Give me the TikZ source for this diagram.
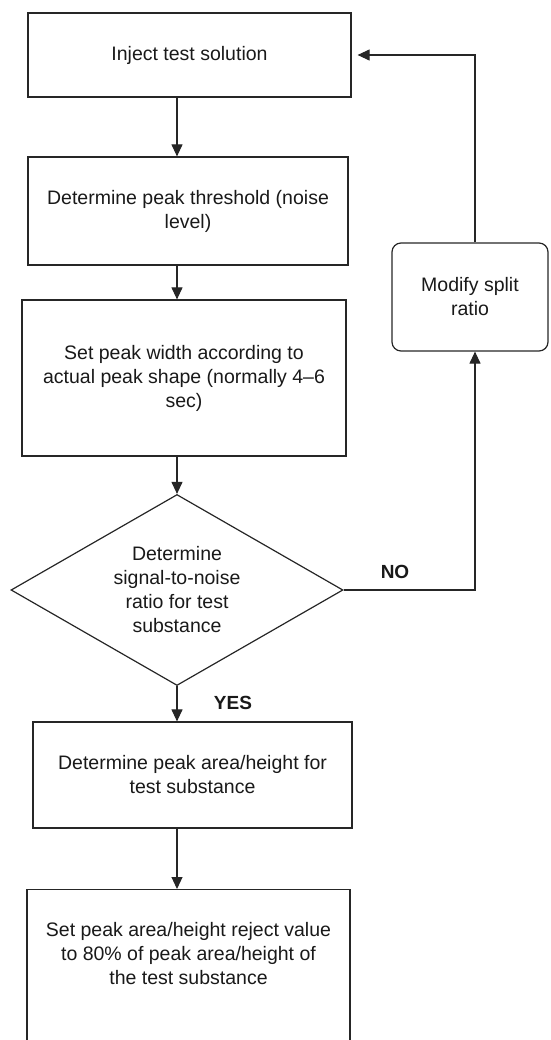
\documentclass[tikz,border=0pt]{standalone}
\usepackage{fontspec}
\setmainfont{Liberation Sans}
\usetikzlibrary{arrows.meta,shapes.geometric}
\begin{document}
\begin{tikzpicture}[x=1pt,y=-1pt,
  every node/.style={font=\fontsize{19.5}{24}\selectfont, align=center, inner sep=0pt, text=black!90},
  box/.style={draw=black!85, line width=1.2pt, rectangle},
  rbox/.style={draw=black!85, line width=1.2pt, rectangle, rounded corners=9pt},
  dia/.style={draw=black!85, line width=1.2pt, diamond, minimum width=332pt, minimum height=191pt},
  lbl/.style={font=\fontsize{19}{22}\selectfont\bfseries},
  arr/.style={draw=black!85, line width=1.1pt, -{Triangle[length=12pt,width=11pt]}}
]
\path[use as bounding box] (0,0) rectangle (550,1040);
\clip (0,0) rectangle (550,1040);

\node[box, minimum width=323pt, minimum height=84pt] (b1) at (189.5,55) {Inject test solution};
\node[box, minimum width=320pt, minimum height=108pt] (b2) at (188,211) {Determine peak threshold (noise\\level)};
\node[box, minimum width=324pt, minimum height=156pt] (b3) at (184,378) {Set peak width according to\\actual peak shape (normally 4--6\\sec)};
\node[dia] (d) at (177,590) {};
\node (dt) at (d.center) {Determine\\signal-to-noise\\ratio for test\\substance};
\node[rbox, minimum width=156pt, minimum height=108pt] (m) at (470,297) {Modify split\\ratio};
\node[box, minimum width=319pt, minimum height=106pt] (b5) at (192.5,775) {Determine peak area/height for\\test substance};
\node[box, anchor=north, minimum width=323pt, minimum height=175pt] (b6) at (188.5,889) {};
\node (t6) at (188.5,954) {Set peak area/height reject value\\to 80\% of peak area/height of\\the test substance};

\node[lbl] (no) at (395,572) {NO};
\node[lbl] (yes) at (233,703) {YES};

\draw[arr] (b1.south -| d.north) -- (b2.north -| d.north);
\draw[arr] (b2.south -| d.north) -- (b3.north -| d.north);
\draw[arr] (b3.south -| d.north) -- (d.north);
\draw[arr] (d.south) -- (b5.north -| d.south);
\draw[arr] (b5.south -| d.south) -- (b6.north -| d.south);
\draw[arr] (d.east) -| ([xshift=5pt]m.south);
\draw[arr, shorten >=6pt] ([xshift=5pt]m.north) |- (b1.east);
\end{tikzpicture}
\end{document}
